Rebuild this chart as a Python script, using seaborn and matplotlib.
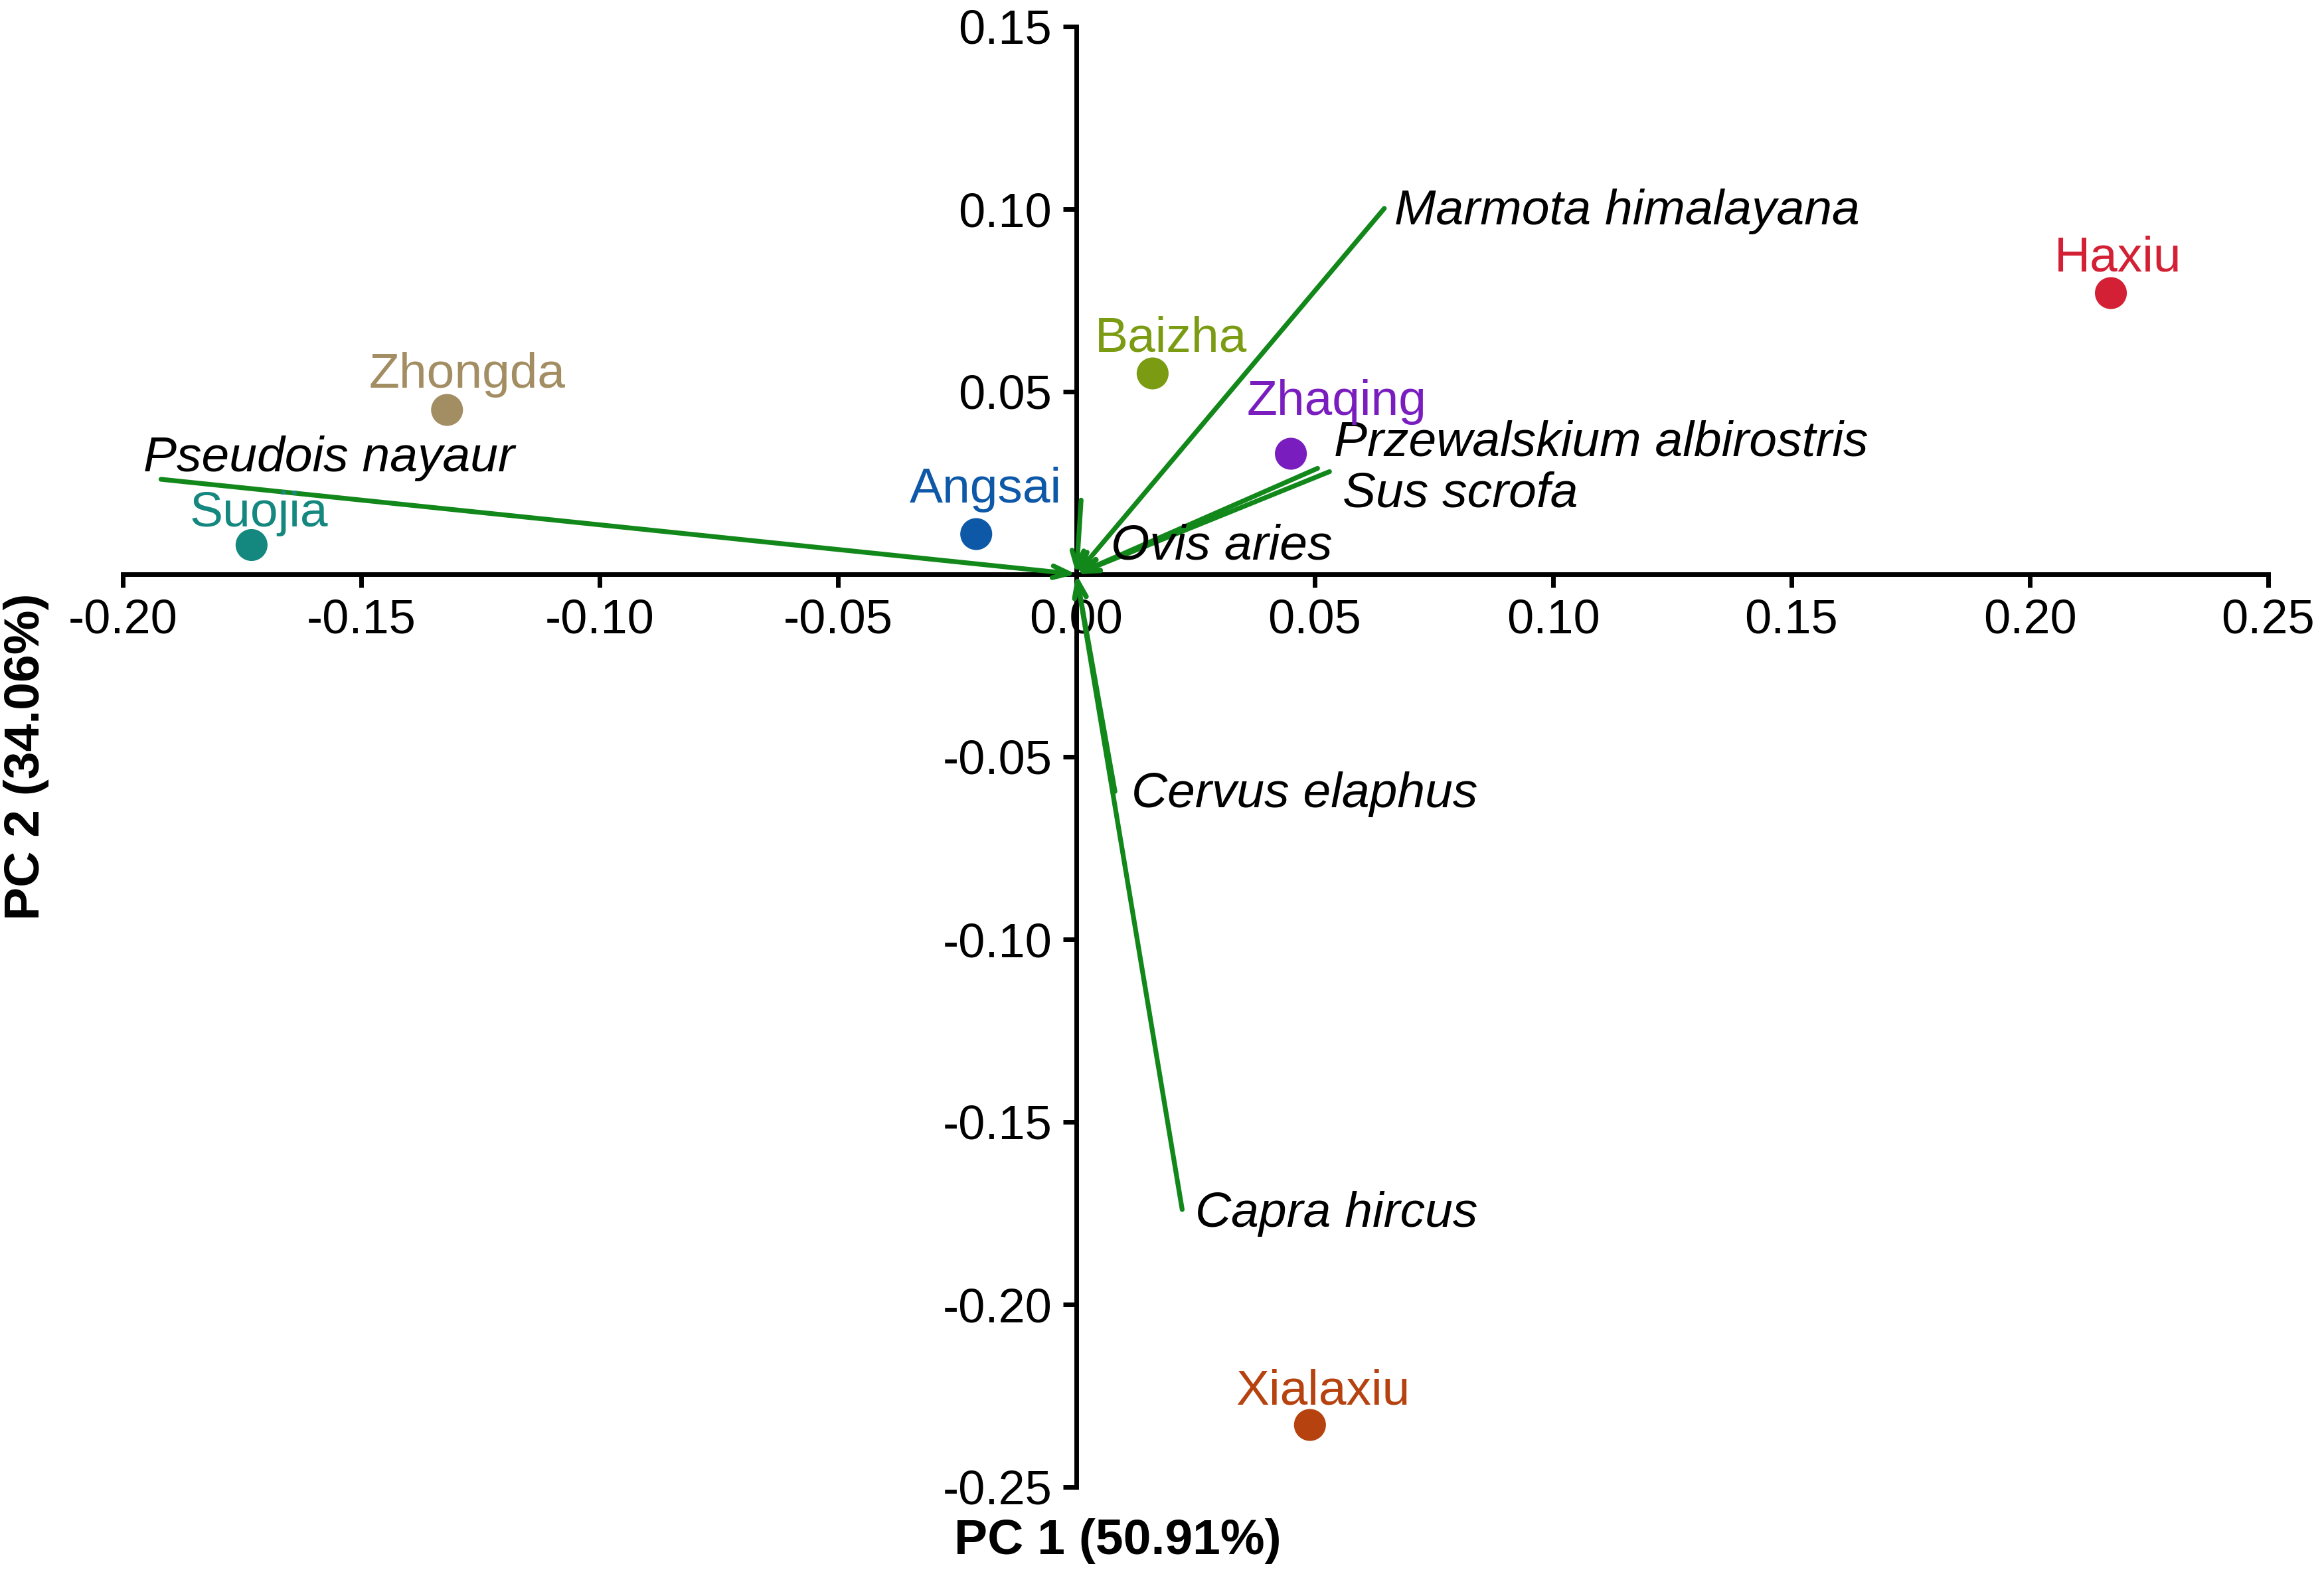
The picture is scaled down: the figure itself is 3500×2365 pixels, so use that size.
import matplotlib
matplotlib.use("Agg")
import matplotlib.pyplot as plt
import seaborn as sns
import pandas as pd

# ---------------- data ----------------
sites = ["Haxiu", "Zhongda", "Suojia", "Angsai", "Baizha", "Zhaqing", "Xialaxiu"]
site_pc1 = [0.217, -0.132, -0.173, -0.021, 0.016, 0.045, 0.049]
site_pc2 = [0.077, 0.045, 0.008, 0.011, 0.055, 0.033, -0.233]
site_colors = ["#D42035", "#A38D63", "#14877E", "#0E58A8", "#7A9B12", "#7A1DBE", "#B5420F"]

species = ["Marmota himalayana", "Pseudois nayaur", "Przewalskium albirostris",
           "Sus scrofa", "Ovis aries", "Cervus elaphus", "Capra hircus"]
sp_pc1 = [0.0646, -0.192, 0.0506, 0.0531, 0.0010, 0.0081, 0.0222]
sp_pc2 = [0.1002, 0.0260, 0.0290, 0.0281, 0.0203, -0.0595, -0.1740]

xticks = [-0.20, -0.15, -0.10, -0.05, 0.00, 0.05, 0.10, 0.15, 0.20, 0.25]
yticks = [-0.25, -0.20, -0.15, -0.10, -0.05, 0.05, 0.10, 0.15]
xlabel = "PC 1 (50.91%)"
ylabel = "PC 2 (34.06%)"

# label offsets (points) -- styling only
site_offsets = [(4, 19), (11, 19), (4, 17), (5, 24), (10, 19), (25, 28), (7, 18)]
sp_offsets = [(5.6, -1.6), (-9.6, 11.2), (8.8, 13.7), (7.2, -12), (16, -25), (8.8, -1.6), (7.2, -2.4)]

# ---------------- style ----------------
sns.set_style("ticks")
plt.rcParams["font.family"] = ["Liberation Sans", "DejaVu Sans"]
plt.rcParams["axes.unicode_minus"] = False
plt.rcParams["text.color"] = "black"
plt.rcParams["axes.labelcolor"] = "black"

fig = plt.figure(figsize=(17.5, 11.825), dpi=200)
ax = fig.add_axes([185 / 3500, 125 / 2365, 3231 / 3500, 2200 / 2365])

green = "#12871A"

# arrows (species)
for name, x, y, (dx, dy) in zip(species, sp_pc1, sp_pc2, sp_offsets):
    ax.annotate("", xy=(0, 0), xytext=(x, y),
                arrowprops=dict(arrowstyle="->,head_length=0.45,head_width=0.16",
                                color=green, lw=2.6, shrinkA=0, shrinkB=0,
                                mutation_scale=20))
    ax.annotate(name, xy=(x, y), xytext=(dx, dy), textcoords="offset points",
                ha="left", va="center", fontsize=27, style="italic", color="black")

# site points
df = pd.DataFrame({"site": sites, "PC1": site_pc1, "PC2": site_pc2})
sns.scatterplot(data=df, x="PC1", y="PC2", hue="site", palette=dict(zip(sites, site_colors)),
                s=300, linewidth=0, legend=False, ax=ax, zorder=5)
for name, x, y, c, (dx, dy) in zip(sites, site_pc1, site_pc2, site_colors, site_offsets):
    ax.annotate(name, xy=(x, y), xytext=(dx, dy), textcoords="offset points",
                ha="center", va="center", fontsize=27, color=c)

# axes
ax.set_xlim(-0.20, 0.25)
ax.set_ylim(-0.25, 0.15)
ax.spines["left"].set_position(("data", 0))
ax.spines["bottom"].set_position(("data", 0))
ax.spines["right"].set_visible(False)
ax.spines["top"].set_visible(False)
for s in ("left", "bottom"):
    ax.spines[s].set_linewidth(2.5)
    ax.spines[s].set_color("black")
ax.set_xticks(xticks)
ax.set_yticks(yticks)
ax.set_xticklabels([f"{v:.2f}" for v in xticks])
ax.set_yticklabels([f"{v:.2f}" for v in yticks])
ax.tick_params(axis="both", direction="out", length=7.2, width=2.5, pad=6,
               labelsize=26, colors="black")
ax.grid(False)
ax.patch.set_alpha(0)

ax.set_xlabel(xlabel, fontsize=27, fontweight="bold", color="black")
ax.set_ylabel(ylabel, fontsize=27, fontweight="bold", color="black")
ax.xaxis.set_label_coords(0.4636, -0.037)
ax.xaxis.label.set_va("center")
ax.yaxis.set_label_coords(-0.045, 0.50)
ax.yaxis.label.set_va("center")

fig.savefig("out.png", dpi=200, facecolor="white")
